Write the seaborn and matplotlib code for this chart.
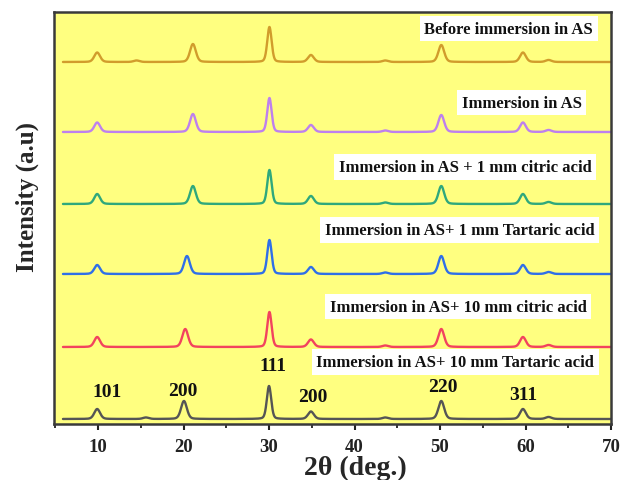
import numpy as np
import pandas as pd
import matplotlib
matplotlib.use("Agg")
import matplotlib.pyplot as plt
import seaborn as sns
from matplotlib.ticker import MultipleLocator

# ---- data (arbitrary units) ----
samples = [
    "Immersion in AS+ 10 mm Tartaric acid",
    "Immersion in AS+ 10 mm citric acid",
    "Immersion in AS+ 1 mm Tartaric acid",
    "Immersion in AS + 1 mm citric acid",
    "Immersion in AS",
    "Before immersion in AS",
]
offsets = [5, 77, 150, 220, 292, 362]
colors = ["#555555", "#F2435E", "#2F6FE8", "#2FA87C", "#BE80EE", "#D19C2C"]

# peak centres (2theta) and heights for each pattern
centres_tart10 = [9.9, 15.6, 20.05, 30.0, 34.9, 43.6, 50.15, 59.7, 62.7]
heights_tart10 = [10, 1.5, 18, 33, 7.5, 1.5, 18, 10, 2]
centres_cit10 = [9.9, 20.2, 30.05, 34.9, 43.6, 50.15, 59.7, 62.7]
heights_cit10 = [10, 18, 35, 7.5, 1.5, 18, 10, 2]
centres_tart1 = [9.9, 20.4, 30.05, 34.9, 43.6, 50.15, 59.7, 62.7]
heights_tart1 = [9, 18, 34, 7, 1.5, 18, 9, 2]
centres_cit1 = [9.9, 21.1, 30.05, 34.9, 43.6, 50.15, 59.7, 62.7]
heights_cit1 = [10, 18, 34, 8, 1.5, 18, 10, 2]
centres_as = [9.9, 21.1, 30.05, 34.9, 43.6, 50.15, 59.7, 62.7]
heights_as = [9.5, 18, 34, 7, 1.5, 17, 9.5, 2]
centres_before = [9.9, 14.5, 21.1, 30.05, 34.9, 43.6, 50.15, 59.7, 62.7]
heights_before = [9.5, 1.5, 18, 35, 7, 1.5, 17, 9.5, 2]

peak_labels = ["101", "200", "111", "200", "220", "311"]
peak_label_x = [11.05, 19.95, 30.4, 35.1, 50.3, 59.7]
peak_label_y = [32, 33, 58, 27, 37, 29]

label_x = [51.8, 52.1, 52.3, 52.95, 59.55, 58.05]
label_y = [62, 117.5, 194, 257, 321.5, 395.5]

all_centres = [centres_tart10, centres_cit10, centres_tart1, centres_cit1, centres_as, centres_before]
all_heights = [heights_tart10, heights_cit10, heights_tart1, heights_cit1, heights_as, heights_before]

# ---- build profiles ----
x = np.linspace(5.9, 70.0, 2600)
frames = []
for name, off, cs, hs in zip(samples, offsets, all_centres, all_heights):
    y = np.full_like(x, float(off))
    for c, h in zip(cs, hs):
        w = 0.6 if abs(c - 30) < 1 else 0.8
        g = np.exp(-4 * np.log(2) * ((x - c) / w) ** 2)
        l = 1.0 / (1 + 4 * ((x - c) / w) ** 2)
        y += h * (0.75 * g + 0.25 * l)
    frames.append(pd.DataFrame({"two_theta": x, "intensity": y, "sample": name}))
df = pd.concat(frames, ignore_index=True)

sns.set_theme(style="ticks")
plt.rcParams["font.family"] = ["Liberation Serif", "DejaVu Serif"]
plt.rcParams["font.weight"] = "bold"

fig = plt.figure(figsize=(6.21, 4.81), dpi=100)
ax = fig.add_axes([54 / 621, 1 - 425 / 481, 557 / 621, 412 / 481])
ax.set_facecolor("#FFFF80")

sns.lineplot(data=df, x="two_theta", y="intensity", hue="sample",
             palette=dict(zip(samples, colors)), hue_order=samples,
             linewidth=1.7, legend=False, ax=ax, estimator=None, sort=False)

ax.set_xlim(4.85, 70.0)
ax.set_ylim(0, 412)
ax.set_yticks([])
ax.set_xticks(range(10, 71, 10))
ax.xaxis.set_minor_locator(MultipleLocator(5))
ax.tick_params(axis="x", which="major", direction="out", length=4, width=1.5,
               labelsize=13.5, pad=6, colors="#222222")
ax.tick_params(axis="x", which="minor", direction="out", length=3, width=1.3,
               colors="#222222")
for lab in ax.get_xticklabels():
    lab.set_fontweight("bold")
for sp in ax.spines.values():
    sp.set_linewidth(1.8)
    sp.set_color("#3a3a3a")

ax.set_xlabel("2θ (deg.)", fontsize=20, fontweight="bold", labelpad=0)
ax.xaxis.set_label_coords((355 - 54) / 557, -(468 - 425) / 412)
ax.xaxis.label.set_va("center")
ax.set_ylabel("")
fig.text(27 / 621, 1 - 197 / 481, "Intensity (a.u)", rotation=90, fontsize=18,
         fontweight="bold", ha="center", va="center")

for name, lx, ly in zip(samples, label_x, label_y):
    ax.text(lx, ly, name, ha="center", va="center", fontsize=12, fontweight="bold",
            color="#111111",
            bbox=dict(facecolor="white", edgecolor="none", pad=3.5))

for t, px, py in zip(peak_labels, peak_label_x, peak_label_y):
    ax.text(px, py, t, ha="center", va="center", fontsize=14, fontweight="bold",
            color="#111111")

fig.savefig("out.png", dpi=100, facecolor="white")
